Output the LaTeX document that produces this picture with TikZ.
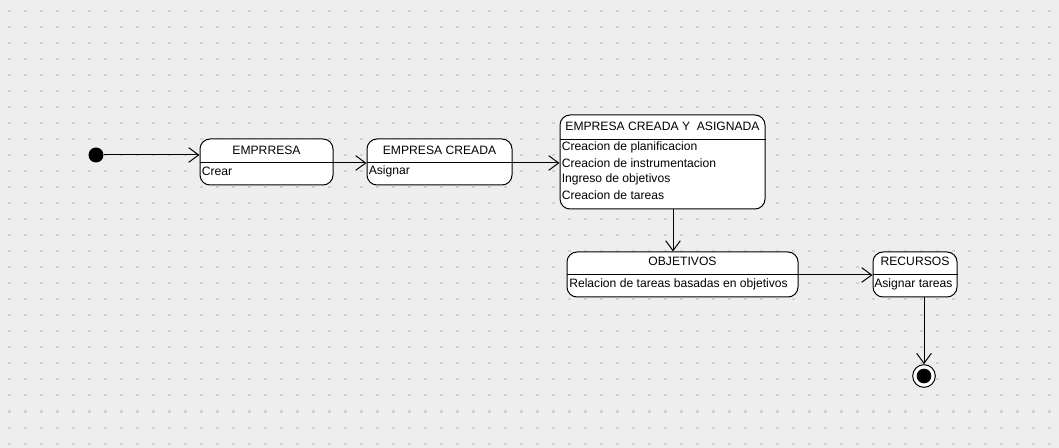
\documentclass[tikz,border=0pt]{standalone}
\usepackage{fontspec}
\setmainfont{Liberation Sans}
\usetikzlibrary{arrows.meta,fit}
\definecolor{bg}{HTML}{EEEEEE}
\definecolor{gdot}{HTML}{D2D2D2}
\tikzset{
  box/.style={draw=black, fill=white, rounded corners=7.5pt, line width=0.75pt, inner sep=0pt},
  ttl/.style={font=\fontsize{9.1}{10}\selectfont, inner sep=0pt, anchor=center},
  txt/.style={font=\fontsize{9.1}{10}\selectfont, inner sep=0pt, anchor=west},
  div/.style={line width=0.75pt},
  arr/.style={line width=0.75pt, -{Straight Barb[length=7.5pt,width=11pt,line width=0.75pt]}},
  ln/.style={line width=0.75pt}
}
\begin{document}
\begin{tikzpicture}[x=0.75pt,y=-0.75pt]
\useasboundingbox (0,0) rectangle (1059,448);
\fill[bg] (0,0) rectangle (1059,448);
\foreach \i in {0,...,66} {
  \foreach \j in {0,...,27} {
    \fill[gdot] ({8+16*\i},{10.5+16*\j}) rectangle ++(3,2);
  }
}
% initial
\node[circle, fill=black, minimum size=11.25pt, inner sep=0pt] (init) at (96,155) {};
% EMPRRESA
\node[box, fit={(200,139)(333,185)}] (a) {};
\draw[div] (a.west |- 0,163) -- (a.east |- 0,163);
\node[ttl] (at) at (266.5,150) {EMPRRESA};
\node[txt] (ab) at (201.5,171.5) {Crear};
% EMPRESA CREADA
\node[box, fit={(367,139)(512,185)}] (b) {};
\draw[div] (b.west |- 0,163) -- (b.east |- 0,163);
\node[ttl] (bt) at (439.5,150) {EMPRESA CREADA};
\node[txt] (bb) at (368.5,171.5) {Asignar};
% EMPRESA CREADA Y ASIGNADA
\node[box, fit={(560,115)(765,209)}] (c) {};
\draw[div] (c.west |- 0,140) -- (c.east |- 0,140);
\node[ttl] (ct) at (662.5,126) {EMPRESA CREADA Y\ \ ASIGNADA};
\node[txt] (c1) at (561.5,147.5) {Creacion de planificacion};
\node[txt] (c2) at (561.5,163.5) {Creacion de instrumentacion};
\node[txt] (c3) at (561.5,179.5) {Ingreso de objetivos};
\node[txt] (c4) at (561.5,195.5) {Creacion de tareas};
% OBJETIVOS
\node[box, fit={(567,252)(798,297)}] (d) {};
\draw[div] (d.west |- 0,275) -- (d.east |- 0,275);
\node[ttl] (dt) at (682.5,261) {OBJETIVOS};
\node[txt] (db) at (569,284) {Relacion de tareas basadas en objetivos};
% RECURSOS
\node[box, fit={(873,252)(957,297)}] (e) {};
\draw[div] (e.west |- 0,275) -- (e.east |- 0,275);
\node[ttl] (et) at (915,261) {RECURSOS};
\node[txt] (eb) at (874,284) {Asignar tareas};
% final
\node[circle, draw=black, fill=white, line width=0.75pt, minimum size=17pt, inner sep=0pt] (fin) at (924,376) {};
\node[circle, fill=black, minimum size=11pt, inner sep=0pt] (fini) at (924,376) {};
% connectors
\draw[arr] (init) -- (init -| a.west);
\draw[arr] (a.east |- 0,163) -- (b.west |- 0,163);
\draw[arr] (b.east |- 0,163) -- (c.west |- 0,163);
\draw[arr] (c.south -| 673,0) -- (d.north -| 673,0);
\draw[arr] (d.east |- 0,275) -- (e.west |- 0,275);
\draw[arr] (e.south -| 924,0) -- (fin.north);
\end{tikzpicture}
\end{document}
